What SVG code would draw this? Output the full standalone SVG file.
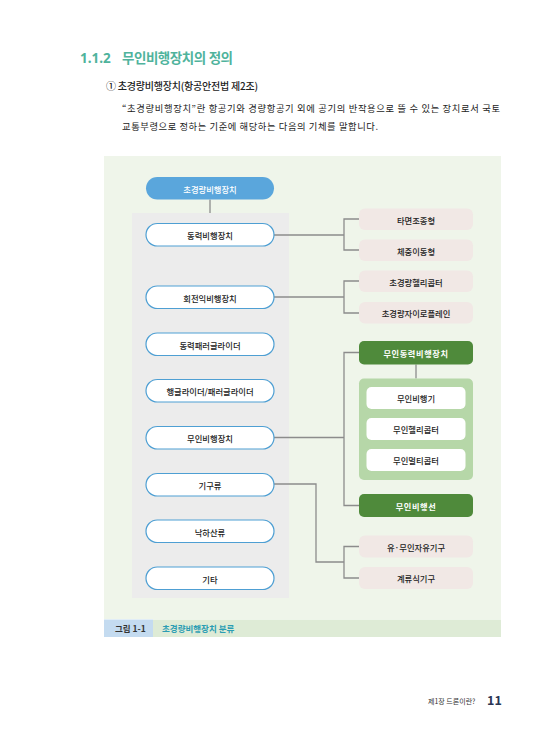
<svg xmlns="http://www.w3.org/2000/svg" width="550" height="749" viewBox="0 0 550 749">
<style>
text{font-family:"Noto Sans CJK KR","Noto Sans",sans-serif}
.pill{fill:#ffffff;stroke:#4e9fd3;stroke-width:1.2}
.pt{font-size:8.3px;font-weight:500;fill:#222;text-anchor:middle;dominant-baseline:central}
.pink{fill:#f1e8e5}
.dg{fill:#4f8a3b}
.wt{font-size:8.2px;fill:#ffffff;font-weight:bold;text-anchor:middle;dominant-baseline:central;letter-spacing:0.6px}
.inner{fill:#ffffff}
.conn{fill:none;stroke:#8c8c8c;stroke-width:1.3}
</style>
<rect width="550" height="749" fill="#ffffff"/>
<text x="80" y="63" font-size="13.5" font-weight="bold" fill="#4fb39c" style="font-family:'Noto Sans','Noto Sans CJK KR',sans-serif">1.1.2<tspan x="122" textLength="111">무인비행장치의 정의</tspan></text>
<text x="106" y="90" font-size="10" font-weight="500" fill="#222" textLength="152">① 초경량비행장치(항공안전법 제2조)</text>
<text x="122" y="112" font-size="9.3" fill="#222" textLength="378" lengthAdjust="spacing">“초경량비행장치”란 항공기와 경량항공기 외에 공기의 반작용으로 뜰 수 있는 장치로서 국토</text>
<text x="122" y="130" font-size="9.3" fill="#222" textLength="256" lengthAdjust="spacing">교통부령으로 정하는 기준에 해당하는 다음의 기체를 말합니다.</text>

<rect x="104" y="156" width="397" height="463" fill="#eff5ea"/>
<rect x="132" y="213" width="157" height="385" fill="#ececec"/>
<rect x="104" y="619.5" width="49" height="17.5" fill="#c4dbf0"/>
<rect x="153" y="619.5" width="348" height="17.5" fill="#deebd6"/>
<text x="115" y="631.5" font-size="8.5" font-weight="bold" fill="#333">그림 1-1</text>
<text x="162" y="631.5" font-size="8.5" font-weight="bold" fill="#2b9db3">초경량비행장치 분류</text>

<g id="connectors">
<path class="conn" d="M210 199.5V213"/>
<path class="conn" d="M274 235H344M359 219H344V250H359"/>
<path class="conn" d="M274 297H344M359 281H344V313H359"/>
<path class="conn" d="M274 437.5H344M359 352.5H344V505.5H359"/>
<path class="conn" d="M416 364.5V378.5"/>
<path class="conn" d="M274 484H316V562H344M359 546.5H344V578H359"/>
</g>

<g id="n-root"><rect x="146" y="177" width="128" height="22.5" rx="11.25" fill="#5aa6dc"/><text class="pt" x="210" y="188.5" style="fill:#fff">초경량비행장치</text></g>
<g id="n-dongryeok"><rect class="pill" x="146" y="223.5" width="128" height="22.5" rx="11.25"/><text class="pt" x="210" y="235">동력비행장치</text></g>
<g id="n-hoejeon"><rect class="pill" x="146" y="286" width="128" height="22.5" rx="11.25"/><text class="pt" x="210" y="297.5">회전익비행장치</text></g>
<g id="n-para"><rect class="pill" x="146" y="333" width="128" height="22.5" rx="11.25"/><text class="pt" x="210" y="344.5">동력패러글라이더</text></g>
<g id="n-hang"><rect class="pill" x="146" y="379.5" width="128" height="22.5" rx="11.25"/><text class="pt" x="210" y="391">행글라이더/패러글라이더</text></g>
<g id="n-muin"><rect class="pill" x="146" y="426.5" width="128" height="22.5" rx="11.25"/><text class="pt" x="210" y="438">무인비행장치</text></g>
<g id="n-gigu"><rect class="pill" x="146" y="473.5" width="128" height="22.5" rx="11.25"/><text class="pt" x="210" y="485">기구류</text></g>
<g id="n-nakha"><rect class="pill" x="146" y="520" width="128" height="22.5" rx="11.25"/><text class="pt" x="210" y="531.5">낙하산류</text></g>
<g id="n-gita"><rect class="pill" x="146" y="567" width="128" height="22.5" rx="11.25"/><text class="pt" x="210" y="578.5">기타</text></g>

<g id="n-tamyeon"><rect class="pink" x="359" y="208.5" width="114" height="21.5" rx="6"/><text class="pt" x="416" y="219.5">타면조종형</text></g>
<g id="n-chejung"><rect class="pink" x="359" y="239.5" width="114" height="21.5" rx="6"/><text class="pt" x="416" y="250.5">체중이동형</text></g>
<g id="n-heli"><rect class="pink" x="359" y="270.5" width="114" height="21.5" rx="6"/><text class="pt" x="416" y="281.5">초경량헬리콥터</text></g>
<g id="n-gyro"><rect class="pink" x="359" y="302" width="114" height="21.5" rx="6"/><text class="pt" x="416" y="313">초경량자이로플레인</text></g>

<g id="n-mudong"><rect class="dg" x="359" y="341" width="114" height="23.5" rx="5"/><text class="wt" x="416" y="353">무인동력비행장치</text></g>
<g id="n-group"><rect x="359" y="378.5" width="114" height="101.5" rx="5" fill="#b6d7a8"/>
<g id="n-plane"><rect class="inner" x="366.5" y="387" width="99" height="22" rx="5"/><text class="pt" x="416" y="398">무인비행기</text></g>
<g id="n-uheli"><rect class="inner" x="366.5" y="418" width="99" height="22" rx="5"/><text class="pt" x="416" y="429">무인헬리콥터</text></g>
<g id="n-multi"><rect class="inner" x="366.5" y="449" width="99" height="22" rx="5"/><text class="pt" x="416" y="460">무인멀티콥터</text></g>
</g>
<g id="n-airship"><rect class="dg" x="359" y="494" width="114" height="23" rx="5"/><text class="wt" x="416" y="505.5">무인비행선</text></g>

<g id="n-free"><rect class="pink" x="359" y="535.5" width="114" height="22" rx="6"/><text class="pt" x="416" y="546.5">유·무인자유기구</text></g>
<g id="n-tether"><rect class="pink" x="359" y="567" width="114" height="22" rx="6"/><text class="pt" x="416" y="578">계류식기구</text></g>

<text x="428" y="703.5" font-size="7" fill="#333">제1장 드론이란?</text>
<text x="487" y="705" font-size="12.5" font-weight="bold" fill="#2a3553">11</text>
</svg>
